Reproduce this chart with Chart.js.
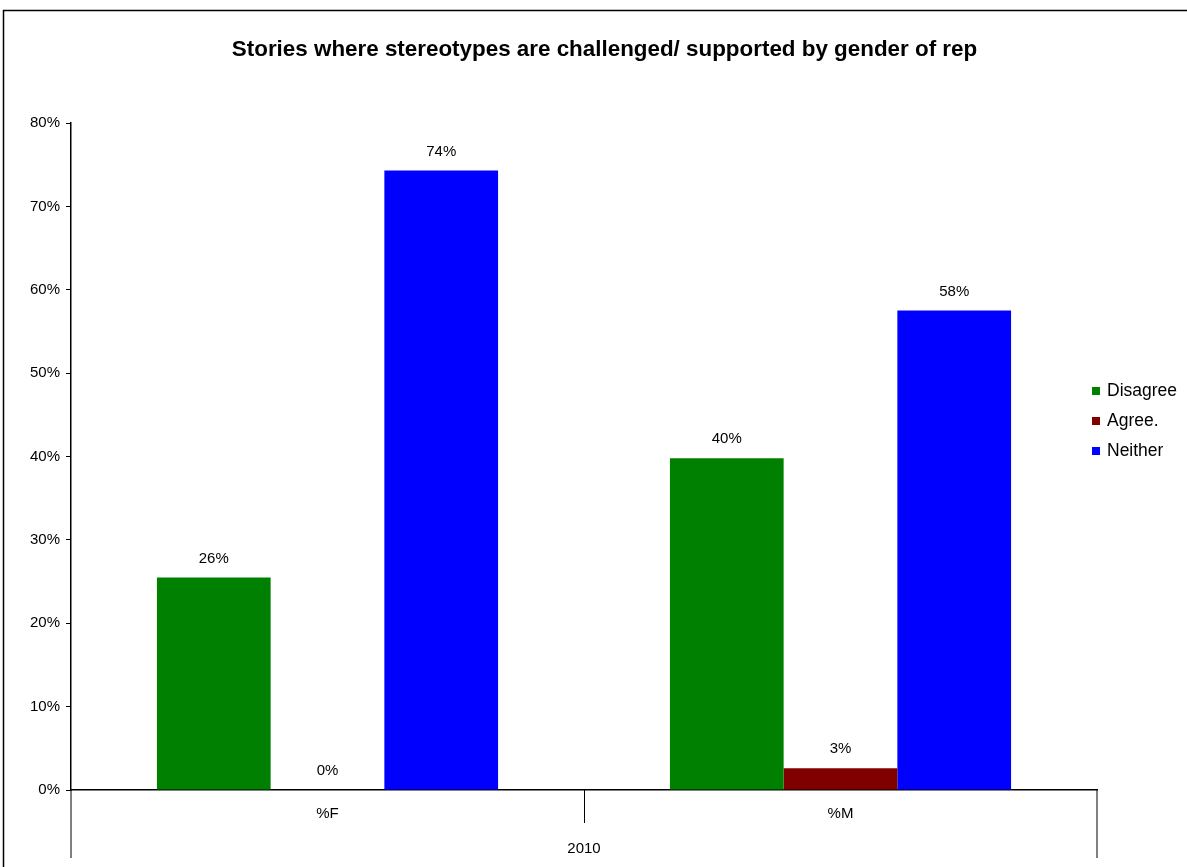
<!DOCTYPE html>
<html>
<head>
<meta charset="utf-8">
<script src="https://cdn.jsdelivr.net/npm/chart.js@4"></script>
<style>
  body { margin: 0; background: #fff; }
  canvas { display: block; }
</style>
</head>
<body>
<canvas id="storiesChart" width="1187" height="867"></canvas>
<script>
// Данные графика
const categories = ['%F', '%M'];
const groupLabels = ['2010'];
const seriesNames = ['Disagree', 'Agree.', 'Neither'];
const disagreeValues = [25.5, 39.8];
const agreeValues = [0, 2.6];
const neitherValues = [74.3, 57.5];
const seriesColors = ['#008000', '#800000', '#0000ff'];
const chartTitle = 'Stories where stereotypes are challenged/ supported by gender of rep';

const FONT = "'Liberation Sans', Arial, sans-serif";

// Подписи значений над столбцами
const valueLabels = {
    id: 'valueLabels',
    afterDatasetsDraw(chart) {
        const ctx = chart.ctx;
        ctx.save();
        ctx.font = '15px ' + FONT;
        ctx.fillStyle = '#000';
        ctx.textAlign = 'center';
        ctx.textBaseline = 'middle';
        chart.data.datasets.forEach((ds, i) => {
            chart.getDatasetMeta(i).data.forEach((bar, j) => {
                ctx.fillText(Math.round(ds.data[j]) + '%', bar.x, bar.y - 19);
            });
        });
        ctx.restore();
    }
};

// Заголовок, рамка, разделители категорий и легенда
const frameAndLegend = {
    id: 'frameAndLegend',
    afterDraw(chart) {
        const ctx = chart.ctx;
        const area = chart.chartArea;
        const xs = chart.scales.x;
        const mid = (xs.getPixelForValue(0) + xs.getPixelForValue(1)) / 2;
        ctx.save();

        // заголовок
        ctx.fillStyle = '#000';
        ctx.font = 'bold 22.4px ' + FONT;
        ctx.textAlign = 'center';
        ctx.textBaseline = 'middle';
        ctx.fillText(chartTitle, 604.5, 50);

        ctx.strokeStyle = '#000';
        ctx.lineWidth = 1;
        ctx.beginPath();
        ctx.moveTo(area.left, area.bottom); ctx.lineTo(area.left, area.bottom + 68);
        ctx.moveTo(area.right, area.bottom); ctx.lineTo(area.right, area.bottom + 68);
        ctx.moveTo(Math.round(mid) + 0.5, area.bottom); ctx.lineTo(Math.round(mid) + 0.5, area.bottom + 33);
        ctx.stroke();

        // внешняя рамка
        ctx.lineWidth = 1.5;
        ctx.strokeRect(3.5, 10.5, 1300, 1000);

        // легенда
        ctx.font = '17.5px ' + FONT;
        ctx.textBaseline = 'middle';
        ctx.textAlign = 'left';
        chart.data.datasets.forEach((ds, i) => {
            const y = 391 + i * 30;
            ctx.fillStyle = ds.backgroundColor;
            ctx.fillRect(1092, y - 4, 8, 8);
            ctx.fillStyle = '#000';
            ctx.fillText(ds.label, 1107, y);
        });
        ctx.restore();
    }
};

const ctx = document.getElementById('storiesChart').getContext('2d');
const chart = new Chart(ctx, {
    type: 'bar',
    data: {
        labels: categories,
        datasets: [
            { label: seriesNames[0], data: disagreeValues, backgroundColor: seriesColors[0] },
            { label: seriesNames[1], data: agreeValues, backgroundColor: seriesColors[1] },
            { label: seriesNames[2], data: neitherValues, backgroundColor: seriesColors[2] }
        ]
    },
    options: {
        responsive: false,
        animation: false,
        categoryPercentage: 0.665,
        barPercentage: 1.0,
        layout: { padding: { left: 0, right: 90, top: 123, bottom: 0 } },
        plugins: {
            legend: { display: false },
            tooltip: { enabled: false },
            title: { display: false }
        },
        scales: {
            x: {
                position: 'bottom',
                grid: { display: false },
                border: { display: true, color: '#000', width: 1.5 },
                ticks: { color: '#000', padding: 7, font: { family: FONT, size: 15 } },
                afterFit(scale) { scale.height = 33; }
            },
            x2: {
                type: 'category',
                position: 'bottom',
                labels: groupLabels,
                grid: { display: false },
                border: { display: false },
                ticks: { color: '#000', padding: 9, font: { family: FONT, size: 15 } },
                afterFit(scale) { scale.height = 44; }
            },
            y: {
                min: 0,
                max: 80,
                grid: { drawOnChartArea: false, drawTicks: true, tickLength: 5, color: '#000' },
                border: { display: true, color: '#000', width: 1.5 },
                ticks: {
                    stepSize: 10,
                    color: '#000',
                    padding: 6,
                    font: { family: FONT, size: 15 },
                    callback: v => v + '%'
                },
                afterFit(scale) { scale.width = 71; }
            }
        }
    },
    plugins: [valueLabels, frameAndLegend]
});
</script>
</body>
</html>
